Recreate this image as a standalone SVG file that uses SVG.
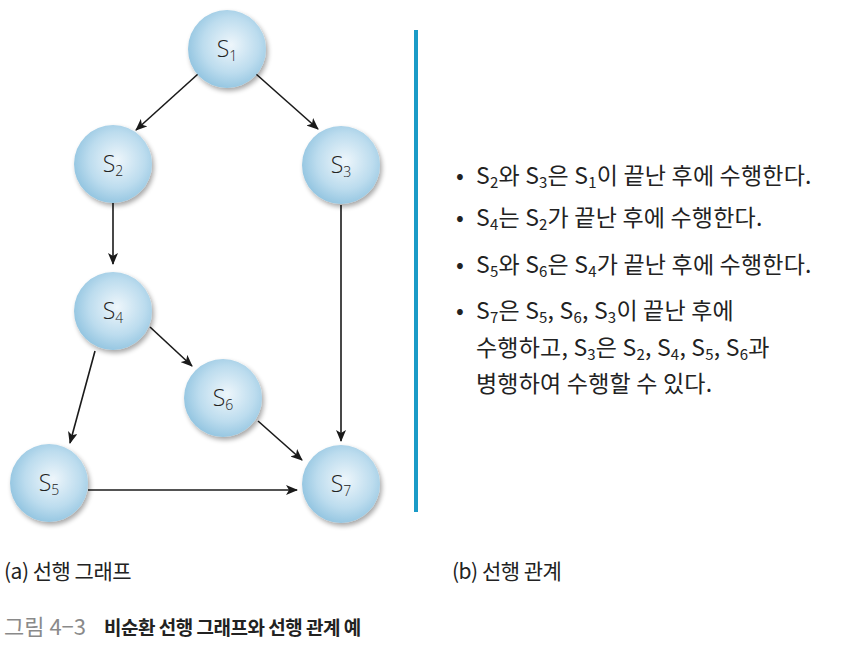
<svg xmlns="http://www.w3.org/2000/svg" width="842" height="646" viewBox="0 0 842 646">
<style>
.n{fill:url(#g);filter:url(#sh)}
.nl{font-family:"Open Sans","Noto Sans",sans-serif;font-weight:300;font-size:23px;fill:#222;text-anchor:middle}
.nl .s{font-size:14px}
.e{stroke:#1a1a1a;stroke-width:1.6;fill:none;marker-end:url(#ah)}
.t{font-family:"Noto Sans CJK KR","Noto Sans",sans-serif;font-size:23px;fill:#222;letter-spacing:0.2px}
.sub{font-size:15px}
.cap{font-family:"Noto Sans CJK KR",sans-serif;font-size:21px;fill:#222;letter-spacing:-0.5px}
</style>
<defs>
<radialGradient id="g" cx="0.55" cy="0.45" r="0.6">
<stop offset="0" stop-color="#eef6fb"/>
<stop offset="0.6" stop-color="#bcdcee"/>
<stop offset="1" stop-color="#8ec2df"/>
</radialGradient>
<filter id="sh" x="-30%" y="-30%" width="160%" height="160%">
<feGaussianBlur in="SourceAlpha" stdDeviation="2.5"/>
<feOffset dx="2" dy="3" result="b"/>
<feComponentTransfer><feFuncA type="linear" slope="0.35"/></feComponentTransfer>
<feMerge><feMergeNode/><feMergeNode in="SourceGraphic"/></feMerge>
</filter>
<marker id="ah" viewBox="0 0 12 10" refX="11" refY="5" markerWidth="12" markerHeight="10" markerUnits="userSpaceOnUse" orient="auto">
<path d="M0,0 L12,5 L0,10 L3,5 Z" fill="#1a1a1a"/>
</marker>
</defs>
<rect width="842" height="646" fill="#fff"/>
<g id="connectors">
<line class="e" x1="198" y1="74" x2="136" y2="130"/>
<line class="e" x1="256" y1="74" x2="318" y2="129"/>
<line class="e" x1="113" y1="203" x2="113" y2="264"/>
<line class="e" x1="341" y1="205" x2="341" y2="441"/>
<line class="e" x1="150" y1="327" x2="192" y2="366"/>
<line class="e" x1="95" y1="351" x2="70" y2="443"/>
<line class="e" x1="258" y1="421" x2="302" y2="460"/>
<line class="e" x1="88" y1="490" x2="297" y2="490"/>
</g>
<g id="S1"><circle class="n" cx="227" cy="49" r="39"/><text class="nl" x="227" y="57">S<tspan class="s" dy="4">1</tspan></text></g>
<g id="S2"><circle class="n" cx="113" cy="164" r="39"/><text class="nl" x="113" y="172">S<tspan class="s" dy="4">2</tspan></text></g>
<g id="S3"><circle class="n" cx="341" cy="165" r="39"/><text class="nl" x="341" y="173">S<tspan class="s" dy="4">3</tspan></text></g>
<g id="S4"><circle class="n" cx="113" cy="311" r="39"/><text class="nl" x="113" y="319">S<tspan class="s" dy="4">4</tspan></text></g>
<g id="S6"><circle class="n" cx="223" cy="398" r="39"/><text class="nl" x="223" y="406">S<tspan class="s" dy="4">6</tspan></text></g>
<g id="S5"><circle class="n" cx="49" cy="483" r="39"/><text class="nl" x="49" y="491">S<tspan class="s" dy="4">5</tspan></text></g>
<g id="S7"><circle class="n" cx="341" cy="484" r="39"/><text class="nl" x="341" y="492">S<tspan class="s" dy="4">7</tspan></text></g>
<line x1="416" y1="30" x2="416" y2="512" stroke="#1a9bc7" stroke-width="4"/>
<g id="relations">
<text class="t" x="456" y="184">•</text>
<text class="t" x="476" y="184">S<tspan class="sub" dy="4">2</tspan><tspan dy="-4">와 S</tspan><tspan class="sub" dy="4">3</tspan><tspan dy="-4">은 S</tspan><tspan class="sub" dy="4">1</tspan><tspan dy="-4">이 끝난 후에 수행한다.</tspan></text>
<text class="t" x="456" y="226">•</text>
<text class="t" x="476" y="226">S<tspan class="sub" dy="4">4</tspan><tspan dy="-4">는 S</tspan><tspan class="sub" dy="4">2</tspan><tspan dy="-4">가 끝난 후에 수행한다.</tspan></text>
<text class="t" x="456" y="273">•</text>
<text class="t" x="476" y="273">S<tspan class="sub" dy="4">5</tspan><tspan dy="-4">와 S</tspan><tspan class="sub" dy="4">6</tspan><tspan dy="-4">은 S</tspan><tspan class="sub" dy="4">4</tspan><tspan dy="-4">가 끝난 후에 수행한다.</tspan></text>
<text class="t" x="456" y="319">•</text>
<text class="t" x="476" y="319">S<tspan class="sub" dy="4">7</tspan><tspan dy="-4">은 S</tspan><tspan class="sub" dy="4">5</tspan><tspan dy="-4">, S</tspan><tspan class="sub" dy="4">6</tspan><tspan dy="-4">, S</tspan><tspan class="sub" dy="4">3</tspan><tspan dy="-4">이 끝난 후에</tspan></text>
<text class="t" x="476" y="356">수행하고, S<tspan class="sub" dy="4">3</tspan><tspan dy="-4">은 S</tspan><tspan class="sub" dy="4">2</tspan><tspan dy="-4">, S</tspan><tspan class="sub" dy="4">4</tspan><tspan dy="-4">, S</tspan><tspan class="sub" dy="4">5</tspan><tspan dy="-4">, S</tspan><tspan class="sub" dy="4">6</tspan><tspan dy="-4">과</tspan></text>
<text class="t" x="476" y="392">병행하여 수행할 수 있다.</text>
</g>
<text class="cap" x="4" y="579">(a) 선행 그래프</text>
<text class="cap" x="452" y="579">(b) 선행 관계</text>
<text x="4" y="635" font-family="Noto Sans CJK KR,sans-serif" font-size="22" fill="#8a8a8a">그림 4−3</text>
<text x="104" y="635" font-family="Noto Sans CJK KR,sans-serif" font-size="19" font-weight="bold" fill="#222" letter-spacing="-0.5">비순환 선행 그래프와 선행 관계 예</text>
</svg>
